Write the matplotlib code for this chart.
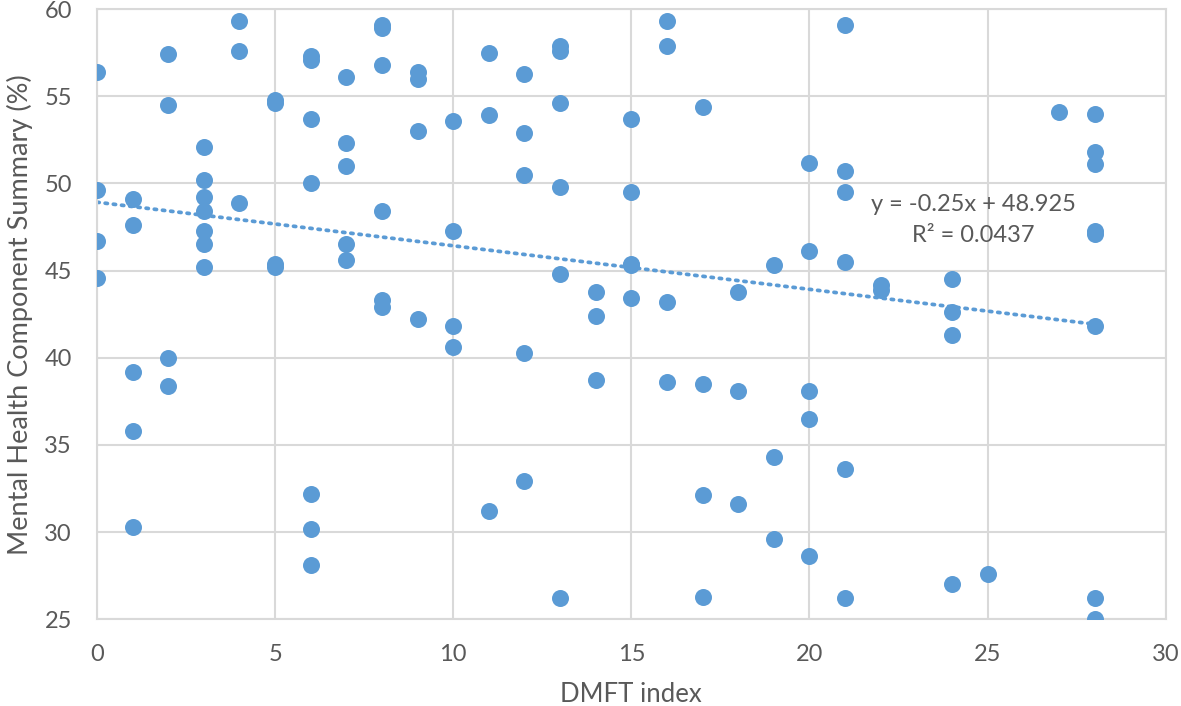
import matplotlib.pyplot as plt

# DMFT index vs Mental Health Component Summary
dmft = [0, 0, 0, 0,
        1, 1, 1, 1, 1,
        2, 2, 2, 2,
        3, 3, 3, 3, 3, 3, 3,
        4, 4, 4,
        5, 5, 5, 5,
        6, 6, 6, 6, 6, 6, 6,
        7, 7, 7, 7, 7,
        8, 8, 8, 8, 8, 8,
        9, 9, 9, 9,
        10, 10, 10, 10,
        11, 11, 11,
        12, 12, 12, 12, 12,
        13, 13, 13, 13, 13, 13,
        14, 14, 14,
        15, 15, 15, 15, 15,
        16, 16, 16, 16,
        17, 17, 17, 17,
        18, 18, 18,
        19, 19, 19,
        20, 20, 20, 20, 20,
        21, 21, 21, 21, 21, 21,
        22, 22,
        24, 24, 24, 24,
        25,
        27,
        28, 28, 28, 28, 28, 28, 28, 28]
mcs = [56.4, 49.6, 46.7, 44.6,
       49.1, 47.6, 39.2, 35.8, 30.3,
       57.4, 54.5, 40.0, 38.4,
       52.1, 50.2, 49.2, 48.4, 47.3, 46.5, 45.2,
       59.3, 57.6, 48.9,
       54.8, 54.6, 45.4, 45.2,
       57.3, 57.1, 53.7, 50.0, 32.2, 30.2, 28.1,
       56.1, 52.3, 51.0, 46.5, 45.6,
       59.1, 58.9, 56.8, 48.4, 43.3, 42.9,
       56.4, 56.0, 53.0, 42.2,
       53.6, 47.3, 41.8, 40.6,
       57.5, 53.9, 31.2,
       56.3, 52.9, 50.5, 40.3, 32.9,
       57.9, 57.6, 54.6, 49.8, 44.8, 26.2,
       43.8, 42.4, 38.7,
       53.7, 49.5, 45.4, 45.3, 43.4,
       59.3, 57.9, 43.2, 38.6,
       54.4, 38.5, 32.1, 26.3,
       43.8, 38.1, 31.6,
       45.3, 34.3, 29.6,
       51.2, 46.1, 38.1, 36.5, 28.6,
       59.1, 50.7, 49.5, 45.5, 33.6, 26.2,
       44.2, 43.9,
       44.5, 42.6, 41.3, 27.0,
       27.6,
       54.1,
       54.0, 51.8, 51.1, 47.3, 47.1, 41.8, 26.2, 25.0]

# linear trendline as reported on the chart
slope = -0.25
intercept = 48.925
r2 = 0.0437
trend_x = [0, 28]

blue = '#5b9bd5'
grid = '#d9d9d9'
txt = '#595959'

plt.rcParams['font.family'] = ['Lato', 'DejaVu Sans']

fig = plt.figure(figsize=(11.81, 7.06), dpi=100)
ax = fig.add_axes([0.0821, 0.123, 0.905, 0.864])

ax.scatter(dmft, mcs, s=150, color=blue, zorder=3, linewidths=0)
ax.plot(trend_x, [slope * v + intercept for v in trend_x], color=blue,
        linestyle=(0, (0.6, 1.6)), linewidth=2.7, dash_capstyle='round', zorder=2)

ax.text(24.6, 48.8, 'y = -0.25x + 48.925', ha='center', va='center', fontsize=17, color=txt)
ax.text(24.6, 47.0, 'R² = 0.0437', ha='center', va='center', fontsize=17, color=txt)

ax.set_xlim(0, 30)
ax.set_ylim(25, 60)
ax.set_xticks(range(0, 31, 5))
ax.set_yticks(range(25, 61, 5))
ax.grid(True, color=grid, linewidth=1.5, zorder=0)
ax.set_axisbelow(True)
for s in ax.spines.values():
    s.set_color(grid)
    s.set_linewidth(1.5)
ax.tick_params(length=0, labelsize=17, labelcolor=txt, pad=18)
ax.set_xlabel('DMFT index', fontsize=18.5, color=txt, labelpad=12)
ax.set_ylabel('Mental Health Component Summary (%)', fontsize=19.5, color=txt, labelpad=8)

fig.savefig('out.png', dpi=100)
